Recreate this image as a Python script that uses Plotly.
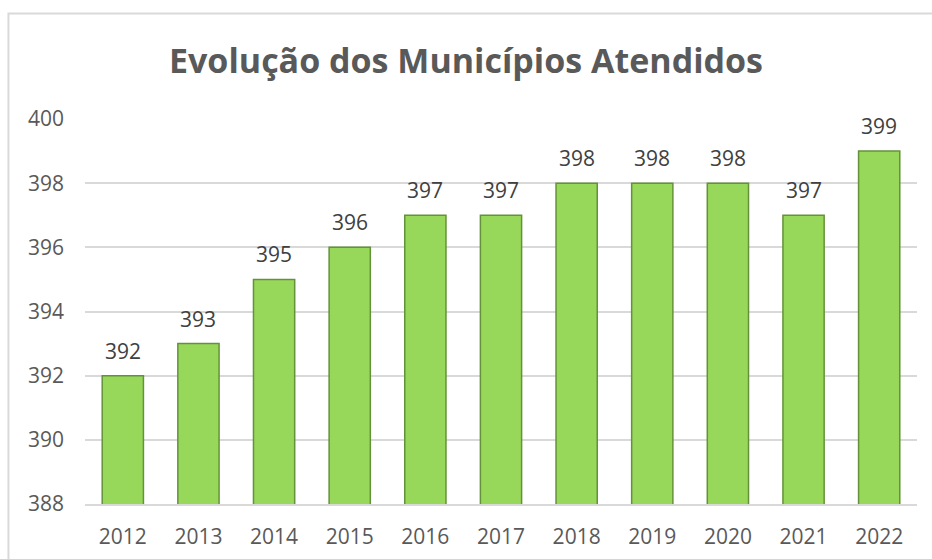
import plotly.graph_objects as go

years = ["2012", "2013", "2014", "2015", "2016", "2017", "2018", "2019", "2020", "2021", "2022"]
municipios = [392, 393, 395, 396, 397, 397, 398, 398, 398, 397, 399]
y_ticks = [388, 390, 392, 394, 396, 398, 400]
title_text = "Evolução dos Municípios Atendidos"

idx = list(range(len(years)))

fig = go.Figure()
fig.add_trace(go.Bar(
    x=idx, y=municipios,
    marker=dict(color="#97d75a", line=dict(color="#64923a", width=1.5)),
    width=0.545,
    customdata=years,
    hovertemplate="%{customdata}: %{y}<extra></extra>",
))

for i, v in zip(idx, municipios):
    fig.add_annotation(x=i, y=v, text=str(v), showarrow=False,
                       xref="x", yref="y",
                       yanchor="bottom", yshift=9,
                       font=dict(family="Open Sans", size=21, color="#404040"))

fig.update_layout(
    width=932, height=559,
    margin=dict(l=85, r=15, t=119, b=55),
    paper_bgcolor="white", plot_bgcolor="white",
    title=dict(text="<b>" + title_text + "</b>", x=0.5, xanchor="center",
               y=0.89, yanchor="middle",
               font=dict(family="Open Sans", size=34, color="#595959")),
    showlegend=False,
    xaxis=dict(range=[-0.5, len(years) - 0.5], tickvals=idx, ticktext=years,
               tickfont=dict(family="Open Sans", size=21, color="#595959"),
               showline=True, linecolor="#d9d9d9", linewidth=1.5, ticks="",
               showgrid=False, zeroline=False, ticklabelstandoff=13, automargin=False),
    yaxis=dict(range=[388, 400], tickvals=y_ticks, ticktext=[str(t) for t in y_ticks],
               tickfont=dict(family="Open Sans", size=21, color="#595959"),
               showgrid=True, gridcolor="#d9d9d9", gridwidth=1.5,
               zeroline=False, showline=False, ticks="", ticklabelstandoff=20,
               automargin=False),
    shapes=[dict(type="rect", xref="paper", yref="paper",
                 x0=-0.092, x1=1.1, y0=-0.3, y1=1.274,
                 line=dict(color="#d9d9d9", width=2), fillcolor="rgba(0,0,0,0)", layer="below")],
)

fig.write_html("out.html", config={"displayModeBar": False},
               post_script="document.body.style.margin='0px';document.body.style.overflow='hidden';")
